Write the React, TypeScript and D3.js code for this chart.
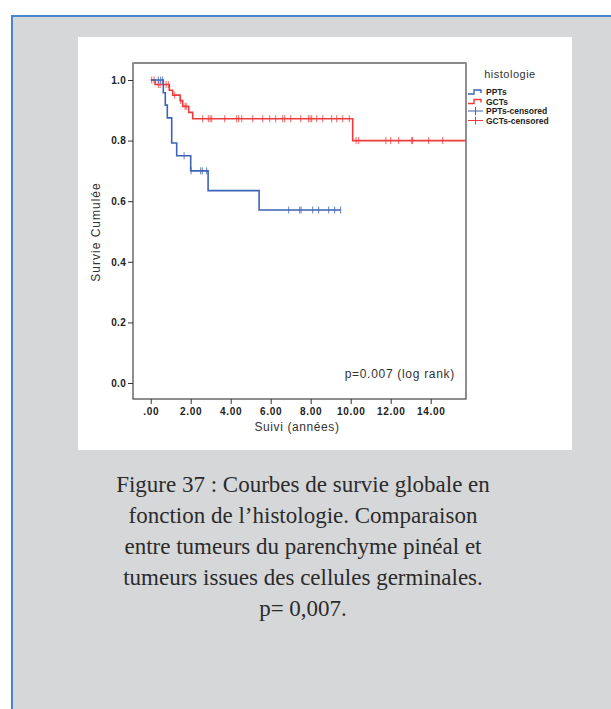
import { useEffect, useRef } from "react";
import * as d3 from "d3";

// Kaplan-Meier steps (time in years, cumulative survival)
const pptTimes = [0, 0.63, 0.73, 0.83, 1.05, 1.3, 2.0, 2.87, 5.42];
const pptSurv = [1.0, 0.958, 0.917, 0.875, 0.792, 0.75, 0.7, 0.635, 0.571];
const pptEnd = 9.5;
const pptCensored = [0.38, 0.5, 0.6, 1.67, 2.02, 2.5, 2.58, 2.8, 6.9, 7.45, 7.52, 8.1, 8.4, 8.9, 9.2, 9.5];

const gctTimes = [0, 0.22, 0.93, 1.1, 1.47, 1.6, 1.9, 2.1, 10.1];
const gctSurv = [1.0, 0.985, 0.966, 0.95, 0.932, 0.913, 0.893, 0.872, 0.8];
const gctEnd = 15.76;
const gctCensored = [
  0.05, 0.17, 0.38, 0.47, 0.77, 0.88, 1.2, 1.5, 1.72, 1.78, 2.6, 2.88, 2.97, 3.05, 3.7, 4.3, 4.4, 4.55,
  5.1, 5.6, 5.95, 6.25, 6.6, 6.7, 7.0, 7.5, 7.88, 7.97, 8.05, 8.3, 8.6, 9.05, 9.3, 9.6, 9.93, 10.27,
  10.4, 11.76, 12.0, 12.4, 13.05, 13.1, 13.9, 14.6,
];

const xTicks = [0, 2, 4, 6, 8, 10, 12, 14];
const yTicks = [0, 0.2, 0.4, 0.6, 0.8, 1.0];

const legendItems = ["PPTs", "GCTs", "PPTs-censored", "GCTs-censored"];

const captionLines = [
  "Figure 37 : Courbes de survie globale en",
  "fonction de l’histologie. Comparaison",
  "entre tumeurs du parenchyme pinéal et",
  "tumeurs issues des cellules germinales.",
  "p= 0,007.",
];

const BLUE = "#3d63b5";
const RED = "#f03a3a";
const SANS = "Liberation Sans, Arial, sans-serif";

export default function App() {
  const svgRef = useRef(null);

  useEffect(() => {
    const width = 611;
    const height = 709;
    const frame = { left: 133, right: 466, top: 63, bottom: 399 };

    const svg = d3.select(svgRef.current).attr("width", width).attr("height", height);
    svg.selectAll("*").remove();

    // outer gray box with blue border
    svg.append("rect").attr("width", width).attr("height", height).attr("fill", "#ffffff");
    svg
      .append("rect")
      .attr("x", 12)
      .attr("y", 16)
      .attr("width", width + 20)
      .attr("height", height + 20)
      .attr("fill", "#d6d7d9")
      .attr("stroke", "#4a86cf")
      .attr("stroke-width", 2);

    // white chart panel
    svg
      .append("rect")
      .attr("x", 78)
      .attr("y", 37)
      .attr("width", 494)
      .attr("height", 413)
      .attr("fill", "#ffffff");

    const xScale = d3.scaleLinear().domain([0, 14]).range([150.7, 430.7]);
    const yScale = d3.scaleLinear().domain([0, 1]).range([383, 80]);

    // frame
    svg
      .append("rect")
      .attr("x", frame.left)
      .attr("y", frame.top)
      .attr("width", frame.right - frame.left)
      .attr("height", frame.bottom - frame.top)
      .attr("fill", "none")
      .attr("stroke", "#444")
      .attr("stroke-width", 1.2);
    svg
      .append("line")
      .attr("x1", frame.left)
      .attr("x2", frame.right)
      .attr("y1", frame.top)
      .attr("y2", frame.top)
      .attr("stroke", "#8a8a8a")
      .attr("stroke-width", 2);

    // axes
    const yAxis = svg
      .append("g")
      .attr("transform", `translate(${frame.left},0)`)
      .call(
        d3
          .axisLeft(yScale)
          .tickValues(yTicks)
          .tickFormat((d) => d3.format(".1f")(d as number))
          .tickSize(5)
          .tickPadding(2)
      );
    yAxis.select(".domain").remove();
    yAxis.selectAll("line").attr("stroke", "#333");
    yAxis
      .selectAll("text")
      .attr("font-family", SANS)
      .attr("font-size", 10)
      .attr("font-weight", "bold")
      .attr("letter-spacing", 0.3)
      .attr("fill", "#222");

    const xAxis = svg
      .append("g")
      .attr("transform", `translate(0,${frame.bottom})`)
      .call(
        d3
          .axisBottom(xScale)
          .tickValues(xTicks)
          .tickFormat((d) => ((d as number) === 0 ? ".00" : (d as number).toFixed(2)))
          .tickSize(5)
          .tickPadding(4)
      );
    xAxis.select(".domain").remove();
    xAxis.selectAll("line").attr("stroke", "#333");
    xAxis
      .selectAll("text")
      .attr("font-family", SANS)
      .attr("font-size", 10)
      .attr("font-weight", "bold")
      .attr("letter-spacing", 0.7)
      .attr("fill", "#222");

    svg
      .append("text")
      .attr("x", 297)
      .attr("y", 431)
      .attr("text-anchor", "middle")
      .attr("font-family", SANS)
      .attr("font-size", 12)
      .attr("letter-spacing", 0.6)
      .attr("fill", "#333")
      .text("Suivi (années)");

    svg
      .append("text")
      .attr("transform", "translate(100,232) rotate(-90)")
      .attr("text-anchor", "middle")
      .attr("font-family", SANS)
      .attr("font-size", 12)
      .attr("letter-spacing", 1)
      .attr("fill", "#333")
      .text("Survie Cumulée");

    svg
      .append("text")
      .attr("x", 455)
      .attr("y", 378)
      .attr("text-anchor", "end")
      .attr("font-family", SANS)
      .attr("font-size", 12)
      .attr("letter-spacing", 0.7)
      .attr("fill", "#333")
      .text("p=0.007 (log rank)");

    // curves
    const line = d3
      .line<[number, number]>()
      .x((d) => xScale(d[0]))
      .y((d) => yScale(d[1]))
      .curve(d3.curveStepAfter);

    const stepAt = (times: number[], surv: number[], t: number) => {
      const i = d3.bisectRight(times, t) - 1;
      return surv[Math.max(0, i)];
    };

    const series = [
      { times: gctTimes, surv: gctSurv, end: gctEnd, censored: gctCensored, color: RED },
      { times: pptTimes, surv: pptSurv, end: pptEnd, censored: pptCensored, color: BLUE },
    ];

    series.forEach((s) => {
      const pts: [number, number][] = s.times.map((t, i) => [t, s.surv[i]]);
      pts.push([s.end, s.surv[s.surv.length - 1]]);
      svg
        .append("path")
        .attr("d", line(pts))
        .attr("fill", "none")
        .attr("stroke", s.color)
        .attr("stroke-width", 1.6);

      svg
        .append("g")
        .selectAll("line")
        .data(s.censored)
        .join("line")
        .attr("x1", (d) => xScale(d))
        .attr("x2", (d) => xScale(d))
        .attr("y1", (d) => yScale(stepAt(s.times, s.surv, d)) - 3.5)
        .attr("y2", (d) => yScale(stepAt(s.times, s.surv, d)) + 3.5)
        .attr("stroke", s.color)
        .attr("stroke-opacity", 0.8)
        .attr("stroke-width", 1);
    });

    // legend
    const legend = svg.append("g");
    legend
      .append("text")
      .attr("x", 510)
      .attr("y", 78)
      .attr("text-anchor", "middle")
      .attr("font-family", SANS)
      .attr("font-size", 11)
      .attr("letter-spacing", 0.5)
      .attr("fill", "#333")
      .text("histologie");

    const lx = 468;
    legendItems.forEach((name, i) => {
      const cy = 92 + i * 9.5;
      const color = name.startsWith("PPT") ? BLUE : RED;
      if (name.endsWith("censored")) {
        legend
          .append("line")
          .attr("x1", lx)
          .attr("x2", lx + 15)
          .attr("y1", cy)
          .attr("y2", cy)
          .attr("stroke", color)
          .attr("stroke-width", 1);
        legend
          .append("line")
          .attr("x1", lx + 7.5)
          .attr("x2", lx + 7.5)
          .attr("y1", cy - 4)
          .attr("y2", cy + 4)
          .attr("stroke", color)
          .attr("stroke-width", 1);
      } else {
        legend
          .append("path")
          .attr("d", `M${lx},${cy + 2}H${lx + 6}V${cy - 2}H${lx + 13}V${cy + 1}`)
          .attr("fill", "none")
          .attr("stroke", color)
          .attr("stroke-width", 1.4);
      }
      legend
        .append("text")
        .attr("x", lx + 18)
        .attr("y", cy + 3)
        .attr("font-family", SANS)
        .attr("font-size", 8.5)
        .attr("font-weight", "bold")
        .attr("fill", "#222")
        .text(name);
    });

    // caption
    svg
      .append("g")
      .selectAll("text")
      .data(captionLines)
      .join("text")
      .attr("x", 303)
      .attr("y", (_d, i) => 492 + i * 31)
      .attr("text-anchor", "middle")
      .attr("font-family", "Liberation Serif, Times New Roman, serif")
      .attr("font-size", 23)
      .attr("fill", "#2b2b2b")
      .text((d) => d);
  }, []);

  return (
    <svg ref={svgRef} style={{ position: "absolute", left: 0, top: 0, display: "block" }}></svg>
  );
}
